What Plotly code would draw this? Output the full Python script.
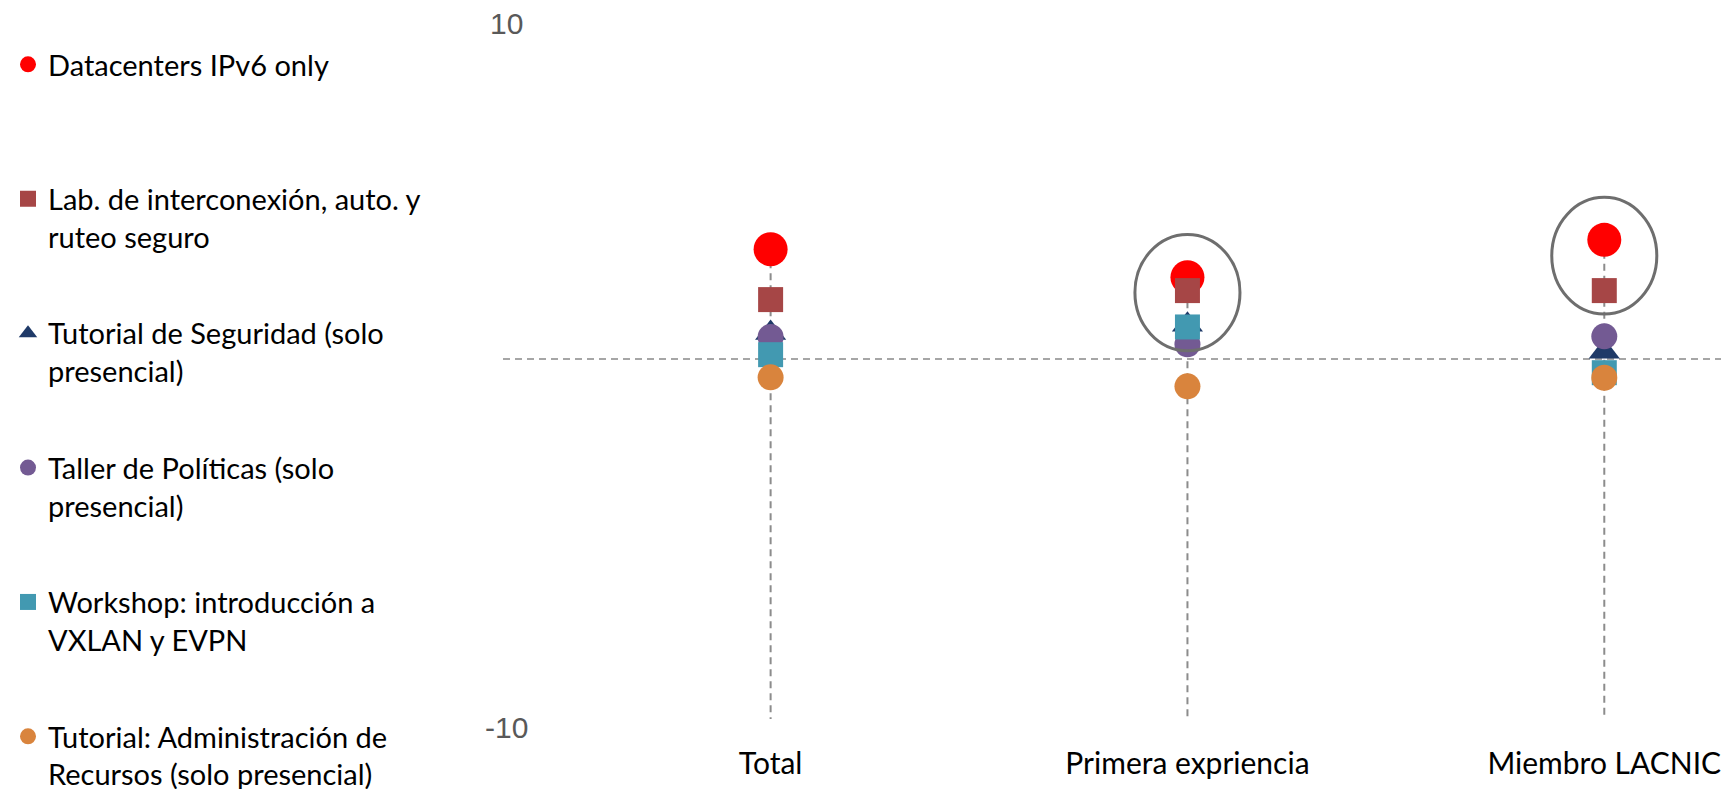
import plotly.graph_objects as go

categories = ["Total", "Primera expriencia", "Miembro LACNIC"]

series_names = [
    "Datacenters IPv6 only",
    "Lab. de interconexión, auto. y<br>ruteo seguro",
    "Tutorial de Seguridad (solo<br>presencial)",
    "Taller de Políticas (solo<br>presencial)",
    "Workshop: introducción a<br>VXLAN y EVPN",
    "Tutorial: Administración de<br>Recursos (solo presencial)",
]
datacenters = [3.05, 2.27, 3.31]
lab_interconexion = [1.65, 1.90, 1.90]
tutorial_seguridad = [0.72, 0.95, 0.20]
taller_politicas = [0.61, 0.41, 0.63]
workshop_vxlan = [0.12, 0.89, -0.38]
tutorial_recursos = [-0.51, -0.76, -0.52]

series_values = [datacenters, lab_interconexion, tutorial_seguridad,
                 taller_politicas, workshop_vxlan, tutorial_recursos]
colors = ["#FF0000", "#A64646", "#1F3A68", "#735A93", "#4299B1", "#D9843D"]
symbols = ["circle", "square", "triangle-up", "circle", "square", "circle"]
sizes = [34, 25, 27, 26, 25, 26]

y_tick_vals = [10, -10]
y_tick_text = ["10", "-10"]
y_min, y_max = -10, 10

x_idx = list(range(len(categories)))

# figure placed at the page's default 8px body margin; the bottom runs past the window
W, H = 1713, 805
OFF = 8  # page offset of the figure

fig = go.Figure()

# vertical dashed drop lines from the top marker down to the axis minimum
for i in x_idx:
    top = max(v[i] for v in series_values)
    fig.add_trace(go.Scatter(
        x=[i, i], y=[top, y_min], mode="lines",
        line=dict(color="#8C8C8C", width=2, dash="7px,5px"),
        showlegend=False, hoverinfo="skip"))

for k, (name, vals) in enumerate(zip(series_names, series_values)):
    label = name if "<br>" in name else name + "<br> "
    fig.add_trace(go.Scatter(
        x=x_idx, y=vals, mode="markers", name=label,
        legendgroup=f"g{k}",
        marker=dict(color=colors[k], symbol=symbols[k], size=sizes[k],
                    line=dict(width=0))))

x_left = (503 - OFF) / W

# horizontal dashed line at zero
fig.add_shape(type="line", xref="paper", yref="y", x0=x_left, x1=1, y0=0, y1=0,
              line=dict(color="#A6A6A6", width=2, dash="7px,5px"), layer="below")

# highlight ellipses
for cx, ylo, yhi in [(1, 0.23, 3.46), (2, 1.25, 4.49)]:
    fig.add_shape(type="circle", xref="x", yref="y",
                  x0=cx - 0.126, x1=cx + 0.126, y0=ylo, y1=yhi,
                  line=dict(color="#6E6E6E", width=3), layer="above")

# y tick labels (the top one sits just inside the chart area)
label_page_y = {10: 23.7, -10: 727.0}
for v, t in zip(y_tick_vals, y_tick_text):
    fig.add_annotation(x=(507 - OFF) / W, xref="paper",
                       y=1 - (label_page_y[v] - OFF) / H, yref="paper", text=t,
                       showarrow=False, xanchor="center", yanchor="middle",
                       font=dict(family="Liberation Sans", size=30, color="#595959"))

y_top = (359 - OFF) / 36.0  # value at top edge of figure

fig.update_layout(
    width=W, height=H,
    margin=dict(l=0, r=0, t=0, b=0),
    paper_bgcolor="white", plot_bgcolor="white",
    font=dict(family="Lato", size=28, color="black"),
    showlegend=True,
    legend=dict(x=0, y=1 - 31 / H, xanchor="left", yanchor="top",
                valign="top", tracegroupgap=56,
                font=dict(family="Lato", size=29, color="black"),
                itemsizing="trace", bgcolor="rgba(0,0,0,0)"),
    xaxis=dict(domain=[x_left, 1], range=[-0.642, 2.28],
               tickmode="array", tickvals=x_idx, ticktext=categories,
               showgrid=False, zeroline=False, showline=False,
               ticks="", ticklabelstandoff=24, ticklabeloverflow="allow",
               tickfont=dict(family="Lato", size=30, color="black")),
    yaxis=dict(domain=[(H - (719 - OFF)) / H, 1], range=[y_min, y_top],
               showgrid=False, zeroline=False, showline=False,
               showticklabels=False, ticks=""),
)

fig.write_html("out.html")
